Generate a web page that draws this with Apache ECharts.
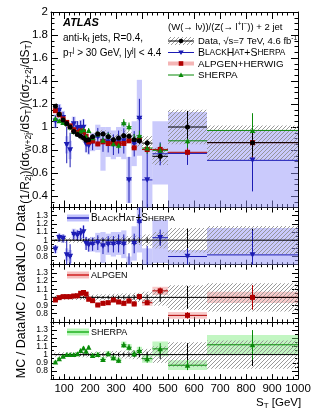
<!DOCTYPE html>
<html><head><meta charset="utf-8">
<script src="https://cdn.jsdelivr.net/npm/echarts@6/dist/echarts.min.js"></script>
<style>html,body{margin:0;padding:0;background:#fff}#c{width:316px;height:413px}</style>
</head><body><div id="c"></div>
<script>
// ---------------- data ----------------
const binEdges = [60,74,89,104,117,130,145,158,170,180,190,200,220,240,260,280,300,320,340,360,380,400,440,500,650,1000];
const dataVal  = [1.18,1.11,1.06,1.03,1.0,0.96,0.935,0.92,0.905,0.885,0.89,0.915,0.94,0.94,0.915,0.89,0.905,0.925,0.92,0.89,0.88,0.86,0.745,1.0,0.864];
const dataStat = [0.008,0.008,0.008,0.008,0.009,0.009,0.01,0.01,0.012,0.012,0.012,0.012,0.014,0.015,0.016,0.018,0.02,0.022,0.024,0.026,0.028,0.03,0.04,0.14,0.12];
const dataSyst = [0.03,0.03,0.03,0.03,0.03,0.03,0.03,0.03,0.03,0.03,0.03,0.03,0.035,0.035,0.035,0.04,0.04,0.045,0.045,0.05,0.05,0.06,0.075,0.15,0.15];
const bhVal    = [1.05,1.143,1.081,0.845,0.80,1.027,0.991,0.994,0.996,0.85,0.837,0.869,0.912,0.874,0.869,0.846,0.869,0.879,0.54,0.854,1.075,0.54,0.767,0.77,0.71];
const bhErr    = [0.05,0.05,0.05,0.16,0.15,0.06,0.06,0.06,0.07,0.07,0.07,0.07,0.08,0.09,0.09,0.09,0.1,0.11,0.2,0.11,0.17,0.25,0.1,0.1,0.27];
const bhBandLo = [0.99,1.08,1.02,0.77,0.72,0.96,0.93,0.93,0.93,0.78,0.76,0.79,0.8,0.62,0.74,0.72,0.74,0.72,0.34,0.66,0.75,0.3,0.5,0.3,0.3];
const bhBandHi = [1.11,1.2,1.14,0.92,0.88,1.09,1.05,1.06,1.07,0.92,0.91,0.95,1.02,1.0,1.0,0.97,1.0,1.04,0.74,1.05,1.41,0.8,1.05,1.13,0.97];
const alpVal   = [1.142,1.107,1.07,1.04,1.01,0.976,0.954,0.966,0.959,0.92,0.87,0.878,0.853,0.871,0.856,0.862,0.854,0.857,0.88,0.819,0.889,0.804,0.805,0.78,0.864];
const alpErr   = [0.01,0.01,0.01,0.01,0.01,0.01,0.01,0.01,0.01,0.012,0.012,0.012,0.013,0.014,0.015,0.016,0.017,0.018,0.02,0.02,0.022,0.024,0.03,0.035,0.13];
const shVal    = [1.074,1.055,1.039,1.03,1.0,0.96,0.944,0.966,0.977,0.92,0.97,0.906,0.94,0.884,0.924,0.854,0.842,1.036,1.003,0.899,0.924,0.817,0.797,0.88,0.97];
const shErr    = [0.012,0.012,0.012,0.012,0.013,0.014,0.015,0.016,0.017,0.018,0.02,0.02,0.022,0.024,0.026,0.028,0.03,0.033,0.036,0.04,0.045,0.05,0.06,0.06,0.15];
// ratio panels (MC / data)
const bhRatio      = [0.89,1.03,1.02,0.82,0.80,1.07,1.06,1.08,1.10,0.96,0.94,0.95,0.97,0.93,0.95,0.95,0.96,0.95,0.59,0.96,1.22,0.63,1.03,0.80,0.82];
const bhRatioErr   = [0.05,0.05,0.05,0.18,0.15,0.06,0.06,0.07,0.08,0.08,0.08,0.08,0.09,0.1,0.1,0.1,0.11,0.12,0.25,0.12,0.2,0.3,0.1,0.1,0.3];
const bhRatioLo    = [0.84,0.98,0.97,0.75,0.72,1.0,0.99,1.01,1.02,0.88,0.86,0.86,0.85,0.72,0.82,0.8,0.82,0.78,0.4,0.75,0.85,0.35,0.72,0.55,0.5];
const bhRatioHi    = [0.94,1.08,1.07,0.9,0.88,1.14,1.13,1.15,1.18,1.04,1.02,1.04,1.09,1.1,1.08,1.1,1.1,1.12,0.8,1.17,1.6,0.9,1.25,0.88,1.15];
const alpRatio     = [0.968,0.997,1.009,1.009,1.009,1.017,1.02,1.05,1.06,1.04,0.977,0.96,0.907,0.927,0.935,0.968,0.944,0.927,0.956,0.92,1.01,0.935,1.08,0.78,1.0];
const alpRatioErr  = [0.01,0.01,0.01,0.01,0.01,0.01,0.012,0.012,0.012,0.014,0.014,0.015,0.016,0.018,0.02,0.02,0.022,0.024,0.026,0.028,0.03,0.03,0.04,0.04,0.15];
const alpRatioBand = [0.02,0.02,0.02,0.02,0.02,0.02,0.025,0.025,0.025,0.025,0.025,0.025,0.03,0.03,0.03,0.03,0.03,0.035,0.035,0.035,0.035,0.04,0.05,0.04,0.07];
const shRatio      = [0.91,0.95,0.98,1.0,1.0,1.0,1.01,1.05,1.08,1.04,1.09,0.99,1.0,0.94,1.01,0.96,0.93,1.12,1.09,1.01,1.05,0.95,1.07,0.87,1.12];
const shRatioErr   = [0.012,0.012,0.012,0.012,0.013,0.014,0.015,0.016,0.018,0.02,0.02,0.022,0.024,0.026,0.028,0.03,0.032,0.035,0.038,0.04,0.045,0.05,0.07,0.06,0.18];
const shRatioBand  = [0.02,0.02,0.02,0.02,0.02,0.02,0.02,0.025,0.025,0.025,0.025,0.03,0.03,0.03,0.035,0.035,0.035,0.04,0.04,0.04,0.045,0.05,0.09,0.06,0.12];
const xTickMajor = [100,200,300,400,500,600,700,800,900,1000];
const yMainTicks = [0.4,0.6,0.8,1.0,1.2,1.4,1.6,1.8,2.0];
const yRatioTicks = [0.8,0.9,1.0,1.1,1.2,1.3];

// ---------------- helpers ----------------
const binLo = binEdges.slice(0,-1), binHi = binEdges.slice(1);
const binC = binLo.map((l,i)=>(l+binHi[i])/2);
const X_MIN = 50, X_MAX = 1000;
const xMinor = []; for (let v=60; v<=1000; v+=20) if (v%100) xMinor.push(v);

function hatch(){
  const c = document.createElement('canvas'); c.width = 4; c.height = 4;
  const g = c.getContext('2d'); g.strokeStyle = '#8f8f8f'; g.lineWidth = 0.9;
  g.beginPath(); g.moveTo(-1,5); g.lineTo(5,-1); g.moveTo(-1,1); g.lineTo(1,-1); g.moveTo(3,5); g.lineTo(5,3); g.stroke();
  return {image:c, repeat:'repeat'};
}
const HATCH = hatch();

function clampRect(p1,p2,cs){
  let x1=Math.max(Math.min(p1[0],p2[0]),cs.x), x2=Math.min(Math.max(p1[0],p2[0]),cs.x+cs.width);
  let y1=Math.max(Math.min(p1[1],p2[1]),cs.y), y2=Math.min(Math.max(p1[1],p2[1]),cs.y+cs.height);
  return {x:x1,y:y1,width:Math.max(0,x2-x1),height:Math.max(0,y2-y1)};
}
function bandsLH(gi, lo, hi, fill, z){
  return {type:'custom', xAxisIndex:gi*4, yAxisIndex:gi*4, z, silent:true,
    data: binLo.map((l,i)=>[l, binHi[i], lo[i], hi[i]]),
    encode:{x:[0,1], y:[2,3]},
    renderItem(params, api){
      const p1 = api.coord([api.value(0), api.value(3)]);
      const p2 = api.coord([api.value(1), api.value(2)]);
      return {type:'rect', shape:clampRect(p1,p2,params.coordSys), style:{fill}};
    }};
}
const bands = (gi, center, half, fill, z)=>bandsLH(gi, center.map((c,i)=>c-half[i]), center.map((c,i)=>c+half[i]), fill, z);
function errbars(gi, center, err, color, z, horiz){
  return {type:'custom', xAxisIndex:gi*4, yAxisIndex:gi*4, z, silent:true,
    data: binLo.map((l,i)=>[l, binHi[i], center[i], err[i], binC[i]]),
    encode:{x:[0,1], y:2},
    renderItem(params, api){
      const cs = params.coordSys;
      const a = api.coord([api.value(0), api.value(2)]);
      const b = api.coord([api.value(1), api.value(2)]);
      const t = api.coord([api.value(4), api.value(2)+api.value(3)]);
      const u = api.coord([api.value(4), api.value(2)-api.value(3)]);
      const cy = y=>Math.max(cs.y, Math.min(cs.y+cs.height, y));
      const ch = [];
      if (horiz && a[1]>=cs.y && a[1]<=cs.y+cs.height) ch.push({type:'line', shape:{x1:a[0],y1:a[1],x2:Math.min(b[0],cs.x+cs.width),y2:b[1]}, style:{stroke:color, lineWidth:1}});
      ch.push({type:'line', shape:{x1:t[0],y1:cy(t[1]),x2:u[0],y2:cy(u[1])}, style:{stroke:color, lineWidth:1}});
      return {type:'group', children:ch};
    }};
}
function markers(gi, center, symbol, size, color, z){
  return {type:'scatter', xAxisIndex:gi*4, yAxisIndex:gi*4, z, silent:true, symbol, symbolSize:size,
    itemStyle:{color, opacity:1}, data: binC.map((c,i)=>[c, center[i]]), clip:true};
}
const ones = binC.map(()=>1);
const relSyst = dataSyst.map((s,i)=>s/dataVal[i]);
const relStat = dataStat.map((s,i)=>s/dataVal[i]);
function unityLine(gi){
  return {type:'line', xAxisIndex:gi*4, yAxisIndex:gi*4, z:6, silent:true, symbol:'none',
    data:[[X_MIN,1],[X_MAX,1]], lineStyle:{color:'#000', width:1}};
}

// ---------------- layout ----------------
const FONT = 'Liberation Sans, Arial, Helvetica, sans-serif';
const L = 51, W = 247;
const grids = [
  {left:L, top:12, width:W, height:195.5},
  {left:L, top:207.5, width:W, height:57.2},
  {left:L, top:264.7, width:W, height:57.2},
  {left:L, top:321.9, width:W, height:57.2}
];
const yFmt = v=> (Math.abs(v-1)<1e-9||Math.abs(v-2)<1e-9) ? String(Math.round(v)) : v.toFixed(1);
const xAxes = [], yAxes = [];
grids.forEach((g,gi)=>{
  const last = gi===3;
  const majLen = gi===0 ? 7 : 5, minLen = gi===0 ? 3.5 : 2.5;
  ['bottom','top'].forEach(pos=>{
    xAxes.push({type:'value', gridIndex:gi, position:pos, min:X_MIN, max:X_MAX,
      axisLine:{show:true, onZero:false, lineStyle:{color:'#000', width:1}},
      axisTick:{show:true, inside:true, length:majLen, customValues:xTickMajor, lineStyle:{color:'#000'}},
      axisLabel:{show: last && pos==='bottom', customValues:xTickMajor, color:'#000', fontSize:11.5, fontFamily:FONT, margin:4,
        hideOverlap:false, formatter: v=>String(v), align:'center'},
      splitLine:{show:false}});
    xAxes.push({type:'value', gridIndex:gi, position:pos, min:X_MIN, max:X_MAX,
      axisLine:{show:false}, axisLabel:{show:false}, splitLine:{show:false},
      axisTick:{show:true, inside:true, length:minLen, customValues:xMinor, lineStyle:{color:'#000'}}});
  });
  const main = gi===0;
  const ymin = main?0.3:0.7, ymax = main?2:1.4;
  const ticks = main?yMainTicks:yRatioTicks;
  // labels split across two axes so neighbouring ratio labels are never dropped for overlap
  const labA = main ? ticks : ticks.filter((v,i)=>i%2===0);
  const labB = main ? [] : ticks.filter((v,i)=>i%2===1);
  const minor = [];
  if (main) { for (let v=0.3; v<2.0001; v+=0.05) minor.push(+v.toFixed(2)); }
  else { for (let v=0.75; v<1.40001; v+=0.05) minor.push(+v.toFixed(2)); }
  const lab = (show, vals)=>({show: show && vals.length>0, customValues:vals.length?vals:[ymin], color:'#000',
      fontSize: main?11.5:8.5, fontFamily:FONT, margin:3, hideOverlap:false, formatter:yFmt});
  ['left','right'].forEach(pos=>{
    yAxes.push({type:'value', gridIndex:gi, position:pos, min:ymin, max:ymax,
      axisLine:{show:true, onZero:false, lineStyle:{color:'#000', width:1}},
      axisTick:{show:true, inside:true, length: main?7:6, customValues:ticks, lineStyle:{color:'#000'}},
      axisLabel: lab(pos==='left', labA),
      splitLine:{show:false}});
    yAxes.push({type:'value', gridIndex:gi, position:pos, min:ymin, max:ymax,
      axisLine:{show:false}, splitLine:{show:false},
      axisLabel: lab(pos==='left', labB),
      axisTick:{show:true, inside:true, length: main?3.5:3, customValues:minor, lineStyle:{color:'#000'}}});
  });
});

// ---------------- colours ----------------
const BLUE = '#1c1cb4', BLUE_BAND = 'rgba(150,150,250,0.5)';
const RED = '#b00000', RED_BAND = 'rgba(240,140,140,0.45)';
const GREEN = '#0a8a0a', GREEN_BAND = 'rgba(120,235,120,0.45)';
const INV_TRI = 'path://M0,0 L10,0 L5,9 Z';
const TRI = 'path://M5,0 L10,9 L0,9 Z';

const series = [
  // main panel
  bandsLH(0, bhBandLo, bhBandHi, BLUE_BAND, 1),
  bands(0, dataVal, dataSyst, HATCH, 2),
  errbars(0, bhVal, bhErr, BLUE, 4, true),
  errbars(0, alpVal, alpErr, RED, 4, true),
  errbars(0, shVal, shErr, GREEN, 4, true),
  errbars(0, dataVal, dataStat, '#000', 5, true),
  markers(0, bhVal, INV_TRI, [6,5.5], BLUE, 7),
  markers(0, alpVal, 'rect', 5, RED, 7),
  markers(0, shVal, TRI, [5.5,5], GREEN, 7),
  markers(0, dataVal, 'circle', 5, '#000', 8),
  // ratio 1: BlackHat
  bandsLH(1, bhRatioLo, bhRatioHi, BLUE_BAND, 1),
  bands(1, ones, relSyst, HATCH, 2),
  unityLine(1),
  errbars(1, ones, relStat, '#000', 5, false),
  errbars(1, bhRatio, bhRatioErr, BLUE, 6, true),
  markers(1, bhRatio, INV_TRI, [6,5.5], BLUE, 7),
  // ratio 2: ALPGEN
  bands(2, alpRatio, alpRatioBand, RED_BAND, 1),
  bands(2, ones, relSyst, HATCH, 2),
  unityLine(2),
  errbars(2, ones, relStat, '#000', 5, false),
  errbars(2, alpRatio, alpRatioErr, RED, 6, true),
  markers(2, alpRatio, 'rect', 5, RED, 7),
  // ratio 3: SHERPA
  bands(3, shRatio, shRatioBand, GREEN_BAND, 1),
  bands(3, ones, relSyst, HATCH, 2),
  unityLine(3),
  errbars(3, ones, relStat, '#000', 5, false),
  errbars(3, shRatio, shRatioErr, GREEN, 6, true),
  markers(3, shRatio, TRI, [5.5,5], GREEN, 7),
];

// ---------------- text / legends ----------------
const T = (x,y,text,extra)=>Object.assign({type:'text', x, y, z:20, silent:true,
  style:Object.assign({text, fill:'#000', font:'10px '+FONT, textVerticalAlign:'middle'}, extra||{})});
const R = (x,y,style)=>({type:'text', x, y, z:20, silent:true, rotation:Math.PI/2,
  style:Object.assign({fill:'#000', textAlign:'center', textVerticalAlign:'middle'}, style)});
const smallCaps = (parts, big, small)=>({
  text: parts.map(p=>p[1]?`{b|${p[0]}}`:`{s|${p[0]}}`).join(''),
  rich:{b:{fontSize:big, fontFamily:FONT, fill:'#000'}, s:{fontSize:small, fontFamily:FONT, fill:'#000'}}
});
const BH_SC = [['B',1],['LACK',0],['H',1],['AT',0],['+',1],['S',1],['HERPA',0]];

const LX1 = 168, LX2 = 194, LT = 198;
const graphic = [
  // axis titles
  R(26, 122, {text:'(1/R{s|2j})(dσ{s|W+2j}/dS{s|T})/(dσ{s|Z+2j}/dS{s|T})', font:'12px '+FONT,
     rich:{s:{fontSize:8.5, fontFamily:FONT, padding:[6,0,0,0]}}}),
  R(22, 236, {text:'NLO / Data', font:'12.5px '+FONT}),
  R(22, 293, {text:'MC / Data', font:'12.5px '+FONT}),
  R(22, 350, {text:'MC / Data', font:'12.5px '+FONT}),
  T(63, 23, 'ATLAS', {font:'bold italic 11px '+FONT}),
  T(63, 38, '', {text:'anti-k{s|t} jets, R=0.4,', rich:{s:{fontSize:7, fontFamily:FONT, padding:[5,0,0,0]}}, font:'10px '+FONT}),
  T(63, 53, '', {text:'p{sub|T}{sup|j} > 30 GeV, |y{sup|j}| < 4.4',
     rich:{sub:{fontSize:7, fontFamily:FONT, padding:[5,0,0,0]}, sup:{fontSize:7, fontFamily:FONT, padding:[0,0,6,0]}}, font:'10px '+FONT}),
  T(168, 27, '', {text:'(W(→ lν))/(Z(→ l{sup|+}l{sup|−})) + 2 jet', rich:{sup:{fontSize:6.5, fontFamily:FONT, padding:[0,0,5,0]}}, font:'9.5px '+FONT}),
  // legend: data
  {type:'rect', z:19, silent:true, shape:{x:LX1, y:37, width:LX2-LX1, height:8}, style:{fill:HATCH}},
  {type:'line', z:20, silent:true, shape:{x1:LX1, y1:41, x2:LX2, y2:41}, style:{stroke:'#000', lineWidth:1}},
  {type:'circle', z:21, silent:true, shape:{cx:(LX1+LX2)/2, cy:41, r:2.3}, style:{fill:'#000'}},
  T(LT, 41, '', {text:'Data, √s=7 TeV, 4.6 fb{sup|-1}', rich:{sup:{fontSize:6.5, fontFamily:FONT, padding:[0,0,5,0]}}, font:'9.5px '+FONT}),
  // legend: BlackHat
  {type:'line', z:20, silent:true, shape:{x1:LX1, y1:52.5, x2:LX2, y2:52.5}, style:{stroke:BLUE, lineWidth:1}},
  {type:'polygon', z:21, silent:true, shape:{points:[[(LX1+LX2)/2-2.8,50.5],[(LX1+LX2)/2+2.8,50.5],[(LX1+LX2)/2,55]]}, style:{fill:BLUE}},
  T(LT, 53, '', smallCaps(BH_SC, 10.5, 8.3)),
  // legend: ALPGEN
  {type:'rect', z:19, silent:true, shape:{x:LX1, y:61.5, width:LX2-LX1, height:4}, style:{fill:'rgba(240,150,150,0.7)'}},
  {type:'rect', z:21, silent:true, shape:{x:(LX1+LX2)/2-2.3, y:61.2, width:4.6, height:4.6}, style:{fill:RED}},
  T(LT, 64, 'ALPGEN+HERWIG', {font:'9.8px '+FONT}),
  // legend: SHERPA
  {type:'line', z:20, silent:true, shape:{x1:LX1, y1:75, x2:LX2, y2:75}, style:{stroke:GREEN, lineWidth:1}},
  {type:'polygon', z:21, silent:true, shape:{points:[[(LX1+LX2)/2-2.6,77],[(LX1+LX2)/2+2.6,77],[(LX1+LX2)/2,72.5]]}, style:{fill:GREEN}},
  T(LT, 75, 'SHERPA', {font:'9.8px '+FONT}),
  // ratio legends
  {type:'rect', z:19, silent:true, shape:{x:67, y:214.5, width:22, height:7}, style:{fill:'rgba(150,150,250,0.6)'}},
  {type:'line', z:20, silent:true, shape:{x1:67, y1:218, x2:89, y2:218}, style:{stroke:BLUE, lineWidth:1.5}},
  T(91, 218.5, '', smallCaps(BH_SC, 10, 8)),
  {type:'rect', z:19, silent:true, shape:{x:67, y:271.5, width:22, height:7}, style:{fill:'rgba(240,150,150,0.6)'}},
  {type:'line', z:20, silent:true, shape:{x1:67, y1:275, x2:89, y2:275}, style:{stroke:'#d02020', lineWidth:1.5}},
  T(91, 275.5, 'ALPGEN', {font:'9px '+FONT}),
  {type:'rect', z:19, silent:true, shape:{x:67, y:328.5, width:22, height:7}, style:{fill:'rgba(140,240,140,0.6)'}},
  {type:'line', z:20, silent:true, shape:{x1:67, y1:332, x2:89, y2:332}, style:{stroke:'#20b020', lineWidth:1.5}},
  T(91, 332.5, 'SHERPA', {font:'9px '+FONT}),
  // x title
  T(256, 403, '', {text:'S{s|T} [GeV]', rich:{s:{fontSize:8, fontFamily:FONT, padding:[5,0,0,0]}}, font:'11.5px '+FONT}),
];

const chart = echarts.init(document.getElementById('c'), null, {renderer:'canvas'});
chart.setOption({animation:false, backgroundColor:'#fff', grid:grids, xAxis:xAxes, yAxis:yAxes, series, graphic});
</script></body></html>
